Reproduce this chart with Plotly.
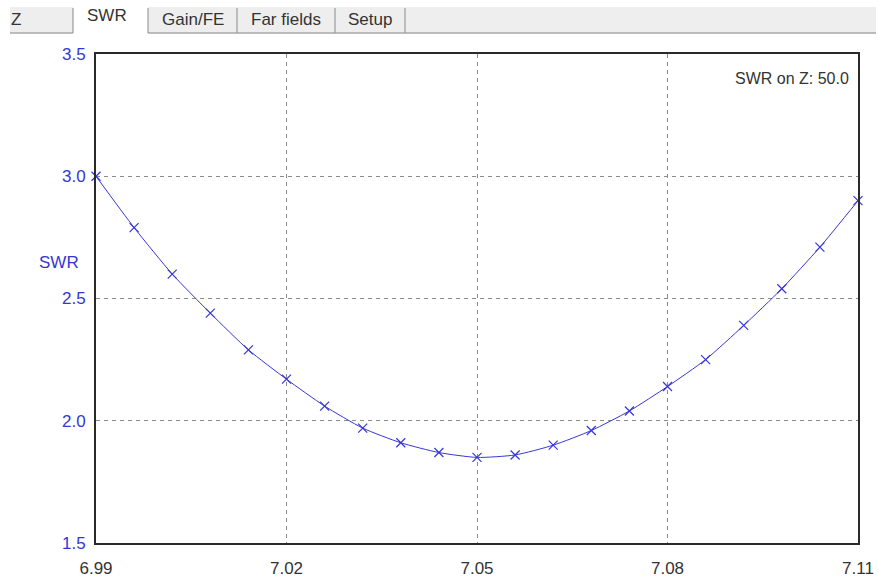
import plotly.graph_objects as go

# Data
freq_mhz = [6.990, 6.996, 7.002, 7.008, 7.014, 7.020, 7.026, 7.032, 7.038, 7.044, 7.050,
            7.056, 7.062, 7.068, 7.074, 7.080, 7.086, 7.092, 7.098, 7.104, 7.110]
swr = [3.00, 2.79, 2.60, 2.44, 2.29, 2.17, 2.06, 1.97, 1.91, 1.87, 1.85,
       1.86, 1.90, 1.96, 2.04, 2.14, 2.25, 2.39, 2.54, 2.71, 2.90]
x_tick_vals = [6.99, 7.02, 7.05, 7.08, 7.11]
x_tick_text = ["6.99", "7.02", "7.05", "7.08", "7.11"]
y_tick_vals = [1.5, 2.0, 2.5, 3.0, 3.5]
tab_labels = ["Z", "SWR", "Gain/FE", "Far fields", "Setup"]

W, H = 878, 582
# plot area in page pixels
L, R, T, B = 96, 858, 54, 543
BLUE = "#3636d6"
FONT = "Liberation Sans, Arial, sans-serif"


def px(x):
    return (x - L) / (R - L)


def py(y):
    return (B - y) / (B - T)


fig = go.Figure()
fig.add_trace(go.Scatter(
    x=freq_mhz, y=swr, mode="lines+markers",
    line=dict(color=BLUE, width=1, shape="spline", smoothing=0.6),
    marker=dict(symbol="x-thin", size=9, line=dict(color=BLUE, width=1.2), color=BLUE),
    hoverinfo="x+y", showlegend=False, cliponaxis=False,
))

shapes = []
shapes.append(dict(type="rect", xref="paper", yref="paper",
                   x0=px(10), x1=px(876), y0=py(33), y1=py(7),
                   fillcolor="#eeeeee", line=dict(width=0), layer="above"))
shapes.append(dict(type="line", xref="paper", yref="paper",
                   x0=px(10), x1=px(876), y0=py(33), y1=py(33),
                   line=dict(color="#a8a8a8", width=1.5), layer="above"))
shapes.append(dict(type="rect", xref="paper", yref="paper",
                   x0=px(73), x1=px(148), y0=py(35), y1=py(0),
                   fillcolor="white", line=dict(width=0), layer="above"))
for sx in [73, 148, 237, 335, 405]:
    shapes.append(dict(type="line", xref="paper", yref="paper",
                       x0=px(sx), x1=px(sx), y0=py(33), y1=py(8),
                       line=dict(color="#9a9a9a", width=1.2), layer="above"))

annotations = []
tab_centers = [16, 107, 193, 286, 370]
tab_ys = [19, 15, 19, 19, 19]
for lab, cx, cy in zip(tab_labels, tab_centers, tab_ys):
    annotations.append(dict(text=lab, xref="paper", yref="paper", x=px(cx), y=py(cy),
                            xanchor="center", yanchor="middle", showarrow=False,
                            font=dict(family=FONT, size=17, color="#333333")))
annotations.append(dict(text="SWR on Z: 50.0", xref="paper", yref="paper",
                        x=px(851), y=py(78), xanchor="right", yanchor="middle",
                        showarrow=False, font=dict(family=FONT, size=16, color="#333333")))
annotations.append(dict(text="SWR", xref="paper", yref="paper",
                        x=px(59), y=py(262), xanchor="center", yanchor="middle",
                        showarrow=False, font=dict(family=FONT, size=17, color=BLUE)))

grid_style = dict(showgrid=True, gridcolor="#8c8c8c", griddash="4px,4px", gridwidth=1)

fig.update_layout(
    width=W, height=H,
    margin=dict(l=L, r=W - R, t=T, b=H - B, pad=0, autoexpand=False),
    paper_bgcolor="white", plot_bgcolor="white",
    shapes=shapes, annotations=annotations,
    font=dict(family=FONT),
    xaxis=dict(range=[6.99, 7.11], tickvals=x_tick_vals, ticktext=x_tick_text,
               automargin=False, ticklabeloverflow="allow", **grid_style,
               showline=True, linecolor="#2a2a2a", linewidth=2, mirror=True,
               zeroline=False, ticks="outside", ticklen=9, tickcolor="rgba(0,0,0,0)",
               tickfont=dict(family=FONT, size=17, color="#333333")),
    yaxis=dict(range=[1.5, 3.5], tickvals=y_tick_vals, tickformat=".1f",
               automargin=False, ticklabeloverflow="allow", **grid_style,
               showline=True, linecolor="#2a2a2a", linewidth=2, mirror=True,
               zeroline=False, ticks="outside", ticklen=5, tickcolor="rgba(0,0,0,0)",
               tickfont=dict(family=FONT, size=17, color=BLUE)),
)

fig.write_html(
    "out.html",
    config={"displayModeBar": False},
    post_script="document.body.style.margin='0px';document.body.style.overflow='hidden';",
)
